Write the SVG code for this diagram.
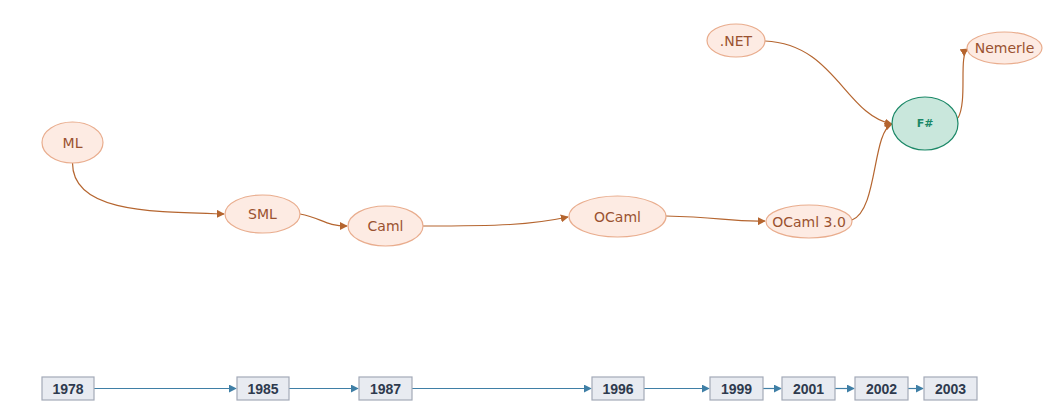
<svg xmlns="http://www.w3.org/2000/svg" width="1058" height="415" viewBox="0 0 1058 415">
<defs>
<style>
.n ellipse{fill:#fdebe3;stroke:#e9ad8e;stroke-width:1.2}
.n text{font-family:"DejaVu Sans",sans-serif;font-size:14px;fill:#9a5230;text-anchor:middle;dominant-baseline:central}
.f ellipse{fill:#c9e7dc;stroke:#1b8867;stroke-width:1.2}
.f text{font-family:"DejaVu Sans",sans-serif;font-size:11px;font-weight:bold;fill:#1b8867;text-anchor:middle;dominant-baseline:central}
.y rect{fill:#e8ebf1;stroke:#a3aab8;stroke-width:1.2}
.y text{font-family:"Liberation Sans",Arial,sans-serif;font-size:14px;font-weight:bold;fill:#2e3a4e;text-anchor:middle;dominant-baseline:central}
.e path{fill:none;stroke:#b5652f;stroke-width:1.2}
.t path{fill:none;stroke:#3f7fa6;stroke-width:1.2}
</style>
<marker id="ae" viewBox="0 0 10 10" refX="9" refY="5" markerWidth="8" markerHeight="8" markerUnits="userSpaceOnUse" orient="auto"><path d="M0,0L10,5L0,10z" fill="#b5652f"/></marker>
<marker id="at" viewBox="0 0 10 10" refX="9" refY="5" markerWidth="8" markerHeight="8" markerUnits="userSpaceOnUse" orient="auto"><path d="M0,0L10,5L0,10z" fill="#3f7fa6"/></marker>
</defs>
<rect width="1058" height="415" fill="#ffffff"/>
<g id="connectors">
<g class="e">
<path marker-end="url(#ae)" d="M72.5,163 C72.5,212 150,212 224,214"/>
<path marker-end="url(#ae)" d="M300,214 C322,218 325,226 347,226"/>
<path marker-end="url(#ae)" d="M423,226 C500,226 530,225 568,217"/>
<path marker-end="url(#ae)" d="M666,216 C720,217 730,222 765,221"/>
<path marker-end="url(#ae)" d="M852,220 C878,210 872,132 892,124"/>
<path marker-end="url(#ae)" d="M765,41 C835,44 845,115 892,124"/>
<path marker-end="url(#ae)" d="M958,118 C968,100 958,55 968,49"/>
</g>
<g class="t">
<path marker-end="url(#at)" d="M94,388.5 H236"/>
<path marker-end="url(#at)" d="M289,388.5 H358"/>
<path marker-end="url(#at)" d="M412,388.5 H591"/>
<path marker-end="url(#at)" d="M644,388.5 H709"/>
<path marker-end="url(#at)" d="M763,388.5 H781"/>
<path marker-end="url(#at)" d="M835,388.5 H854"/>
<path marker-end="url(#at)" d="M908,388.5 H923"/>
</g>
</g>
<g id="ML" class="n"><ellipse cx="72.5" cy="142.5" rx="30.5" ry="20.5"/><text x="72.5" y="142.5">ML</text></g>
<g id="SML" class="n"><ellipse cx="262.5" cy="214" rx="37.5" ry="19"/><text x="262.5" y="214">SML</text></g>
<g id="Caml" class="n"><ellipse cx="385.5" cy="226" rx="37.5" ry="20"/><text x="385.5" y="226">Caml</text></g>
<g id="OCaml" class="n"><ellipse cx="617.5" cy="216.5" rx="48.5" ry="20.5"/><text x="617.5" y="216.5">OCaml</text></g>
<g id="OCaml30" class="n"><ellipse cx="809" cy="221.5" rx="43" ry="16.5"/><text x="809" y="221.5">OCaml 3.0</text></g>
<g id="NET" class="n"><ellipse cx="736" cy="40.5" rx="29" ry="16.5"/><text x="736" y="40.5">.NET</text></g>
<g id="Nemerle" class="n"><ellipse cx="1004.5" cy="48" rx="37.5" ry="16"/><text x="1004.5" y="48">Nemerle</text></g>
<g id="FSharp" class="f"><ellipse cx="925" cy="123.5" rx="33" ry="26.5"/><text x="925" y="123.5">F#</text></g>
<g id="y1978" class="y"><rect x="42" y="377" width="52" height="23"/><text x="68" y="388.5">1978</text></g>
<g id="y1985" class="y"><rect x="237" y="377" width="52" height="23"/><text x="263" y="388.5">1985</text></g>
<g id="y1987" class="y"><rect x="359" y="377" width="53" height="23"/><text x="385.5" y="388.5">1987</text></g>
<g id="y1996" class="y"><rect x="592" y="377" width="52" height="23"/><text x="618" y="388.5">1996</text></g>
<g id="y1999" class="y"><rect x="710" y="377" width="53" height="23"/><text x="736.5" y="388.5">1999</text></g>
<g id="y2001" class="y"><rect x="782" y="377" width="53" height="23"/><text x="808.5" y="388.5">2001</text></g>
<g id="y2002" class="y"><rect x="855" y="377" width="53" height="23"/><text x="881.5" y="388.5">2002</text></g>
<g id="y2003" class="y"><rect x="924" y="377" width="53" height="23"/><text x="950.5" y="388.5">2003</text></g>
</svg>
